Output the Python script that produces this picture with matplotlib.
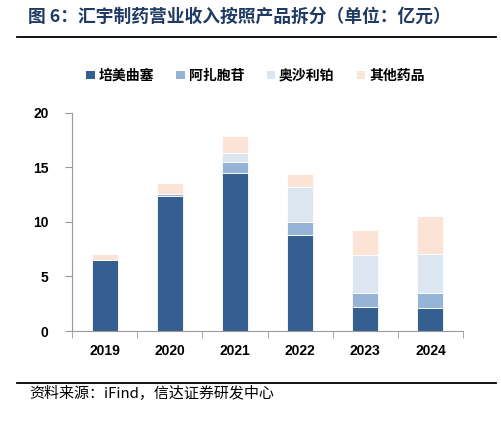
import matplotlib
matplotlib.use('Agg')
import matplotlib.pyplot as plt
from matplotlib.patches import Patch
import numpy as np

plt.rcParams['font.family'] = ['Liberation Sans', 'Noto Sans CJK SC', 'DejaVu Sans']

# ── Data (亿元) ──
years = ["2019", "2020", "2021", "2022", "2023", "2024"]
series_names = ["培美曲塞", "阿扎胞苷", "奥沙利铂", "其他药品"]
pemetrexed = [6.55, 12.35, 14.5, 8.75, 2.23, 2.14]
azacitidine = [0.0, 0.2, 1.0, 1.25, 1.28, 1.32]
oxaliplatin = [0.0, 0.0, 0.8, 3.15, 3.46, 3.63]
others = [0.5, 1.0, 1.55, 1.25, 2.27, 3.46]

colors = ["#355E91", "#95B3D7", "#DCE6F1", "#FBE3D5"]

fig = plt.figure(figsize=(5.01, 4.26), dpi=100)
ax = fig.add_axes([0.1437, 0.223, 0.7805, 0.5125])

x = np.arange(len(years))
bottom = np.zeros(len(years))
for vals, c in zip([pemetrexed, azacitidine, oxaliplatin, others], colors):
    ax.bar(x, vals, width=0.4, bottom=bottom, color=c, edgecolor="white", linewidth=0.6)
    bottom += np.array(vals)

ax.set_xlim(-0.5, len(years) - 0.5)
ax.set_ylim(0, 20)
ax.set_yticks([0, 5, 10, 15, 20])
ax.set_xticks(x)
ax.set_xticklabels(years, fontsize=10, fontweight="bold")
ax.set_xticks(np.arange(-0.5, len(years), 1), minor=True)
ax.tick_params(axis="x", which="major", length=0, pad=9)
ax.tick_params(axis="x", which="minor", length=5, direction="out", color="#999999")
ax.tick_params(axis="y", length=5, direction="out", color="#999999", labelsize=10, pad=12)
for lab in ax.get_yticklabels():
    lab.set_fontweight("bold")
for s in ["top", "right"]:
    ax.spines[s].set_visible(False)
for s in ["left", "bottom"]:
    ax.spines[s].set_color("#999999")
    ax.spines[s].set_linewidth(0.8)

# legend
handles = [Patch(facecolor=c, label=n) for c, n in zip(colors, series_names)]
fig.legend(handles=handles, loc="center", bbox_to_anchor=(0.51, 0.822), ncol=4,
           frameon=False, handlelength=0.6, handleheight=0.6, handletextpad=0.3,
           columnspacing=1.6, prop={"family": "Noto Sans CJK SC", "size": 10, "weight": "bold"})

# title and rules
fig.text(0.056, 0.96, "图 6：汇宇制药营业收入按照产品拆分（单位：亿元）", fontsize=12.8,
         fontweight="bold", color="#1F3B63", va="center", family=["Noto Sans CJK SC", "DejaVu Sans"])
fig.add_artist(plt.Line2D([0.034, 0.99], [0.913, 0.913], color="black", linewidth=1.3))
fig.add_artist(plt.Line2D([0.034, 0.99], [0.102, 0.102], color="black", linewidth=1.3))
fig.text(0.058, 0.077, "资料来源：iFind，信达证券研发中心", fontsize=10.8, style="italic",
         va="center", family=["Noto Sans CJK SC", "DejaVu Sans"])

fig.savefig("out.png", dpi=100)
